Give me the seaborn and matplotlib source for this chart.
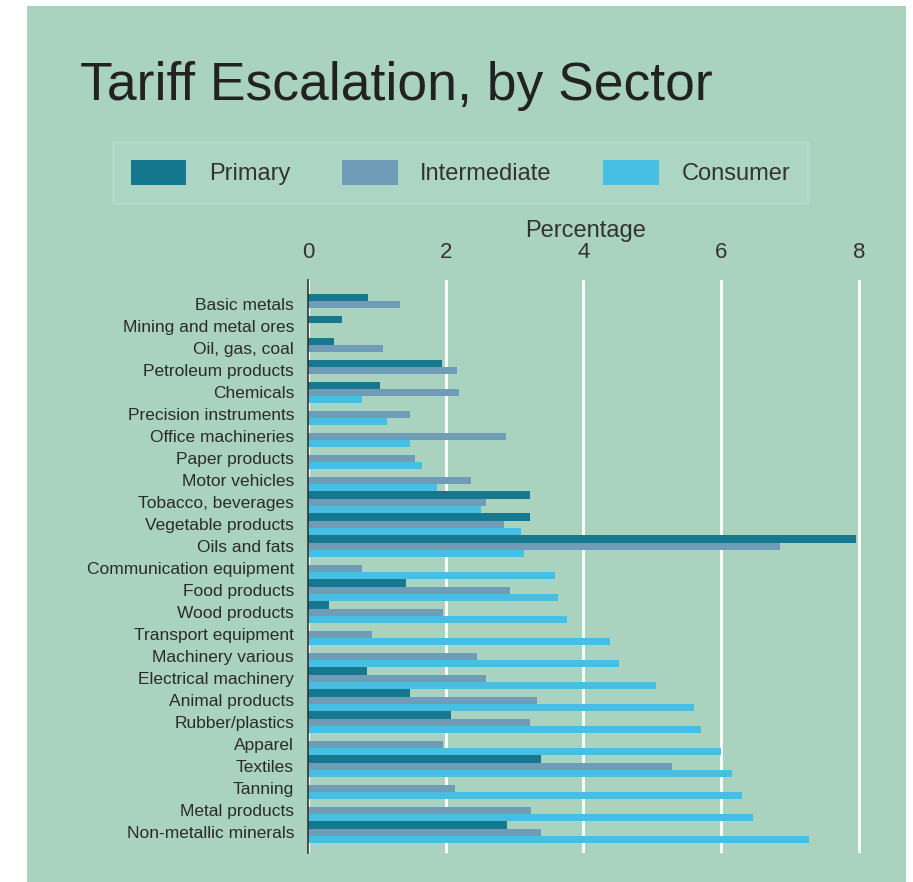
import matplotlib
matplotlib.use("Agg")
import matplotlib.pyplot as plt
from matplotlib.patches import Rectangle, Patch
import seaborn as sns
import pandas as pd

categories = [
    "Basic metals", "Mining and metal ores", "Oil, gas, coal", "Petroleum products",
    "Chemicals", "Precision instruments", "Office machineries", "Paper products",
    "Motor vehicles", "Tobacco, beverages", "Vegetable products", "Oils and fats",
    "Communication equipment", "Food products", "Wood products", "Transport equipment",
    "Machinery various", "Electrical machinery", "Animal products", "Rubber/plastics",
    "Apparel", "Textiles", "Tanning", "Metal products", "Non-metallic minerals",
]
primary = [0.87, 0.49, 0.38, 1.95, 1.04, 0, 0, 0, 0, 3.22, 3.22, 7.95,
           0, 1.42, 0.30, 0, 0, 0.85, 1.48, 2.07, 0, 3.39, 0, 0, 2.89]
intermediate = [1.34, 0, 1.09, 2.17, 2.19, 1.48, 2.87, 1.55, 2.36, 2.58, 2.84, 6.86,
                0.79, 2.94, 1.96, 0.93, 2.45, 2.58, 3.33, 3.22, 1.96, 5.29, 2.13, 3.24, 3.39]
consumer = [0, 0, 0, 0, 0.78, 1.15, 1.48, 1.66, 1.87, 2.51, 3.10, 3.14,
            3.58, 3.63, 3.76, 4.38, 4.51, 5.06, 5.61, 5.70, 6.00, 6.16, 6.30, 6.46, 7.28]
series_names = ["Primary", "Intermediate", "Consumer"]
colors = ["#15788f", "#6f9db7", "#46bfe2"]
x_ticks = [0, 2, 4, 6, 8]

BG = "#a9d2bf"

rows = []
for name, vals in zip(series_names, [primary, intermediate, consumer]):
    for c, v in zip(categories, vals):
        rows.append({"Sector": c, "Type": name, "Value": v})
df = pd.DataFrame(rows)

sns.set_style("white")
plt.rcParams["font.family"] = ["Liberation Sans", "DejaVu Sans"]

fig = plt.figure(figsize=(9.13, 8.82), dpi=100)
fig.patch.set_facecolor("white")
fig.patches.append(Rectangle((27 / 913, 0), (906 - 27) / 913, (882 - 6) / 882,
                             transform=fig.transFigure, facecolor=BG,
                             edgecolor="none", zorder=-10))

ax = fig.add_axes([308 / 913, 1 - 853 / 882, (862.4 - 308) / 913, (853 - 280) / 882])
ax.set_facecolor(BG)

sns.barplot(data=df, y="Sector", x="Value", hue="Type", order=categories,
            hue_order=series_names, palette=colors, orient="h", width=0.97,
            saturation=1, errorbar=None, ax=ax, legend=False, zorder=3,
            linewidth=0, edgecolor="none")

ax.set_xlim(0, 8.05)
ax.set_ylim(24.95, -1.1)
ax.set_xticks(x_ticks)
ax.xaxis.tick_top()
ax.xaxis.set_label_position("top")
ax.set_xlabel("Percentage", fontsize=17, color="#333333", labelpad=4)
ax.set_ylabel("")
ax.tick_params(axis="x", length=0, pad=12, labelsize=16, labelcolor="#333333")
ax.tick_params(axis="y", length=0, pad=10, labelsize=12.5, labelcolor="#2b2b2b")
ax.grid(axis="x", color="white", linewidth=2, zorder=0)
ax.set_axisbelow(True)
for s in ["top", "right", "bottom"]:
    ax.spines[s].set_visible(False)
ax.spines["left"].set_color("#333333")
ax.spines["left"].set_linewidth(1.2)
ax.spines["left"].set_zorder(5)

fig.text(80 / 913, 1 - 100 / 882, "Tariff Escalation, by Sector", fontsize=38.5,
         color="#222222", va="baseline", ha="left")

handles = [Patch(facecolor=c, edgecolor="none") for c in colors]
leg = fig.legend(handles, series_names, loc="center", bbox_to_anchor=(0.5044, 0.8044),
                 ncol=3, fontsize=17, frameon=True, fancybox=False,
                 handlelength=2.35, handleheight=1.3, handletextpad=0.95,
                 columnspacing=2.2, borderpad=0.75, labelcolor="#333333")
leg.get_frame().set_facecolor("#afd6c6")
leg.get_frame().set_edgecolor("#b8dbcc")
leg.get_frame().set_linewidth(2)

fig.savefig("out.png", dpi=100, facecolor=fig.get_facecolor())
